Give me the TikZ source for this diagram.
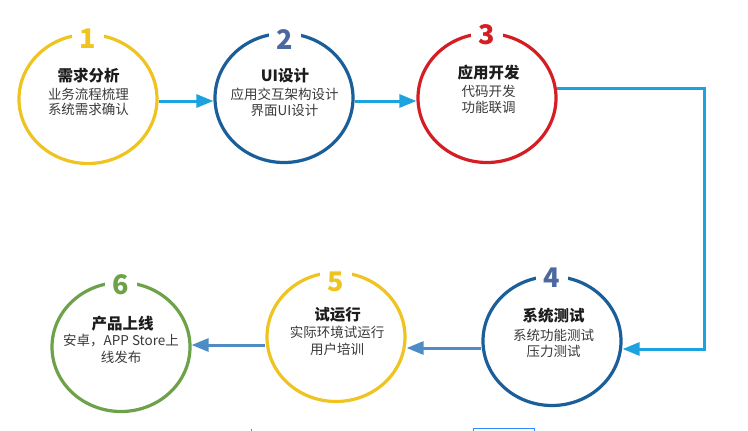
\documentclass[tikz,border=0pt]{standalone}
\usepackage{fontspec}
\newfontfamily\cjk{Noto Sans CJK SC}
\usetikzlibrary{shapes.geometric,arrows.meta}
\definecolor{cyanarr}{RGB}{27,163,224}
\definecolor{steelarr}{RGB}{78,140,200}
\definecolor{cyel}{RGB}{240,196,32}
\definecolor{cblue}{RGB}{26,94,154}
\definecolor{nblue}{RGB}{76,104,160}
\definecolor{cred}{RGB}{212,30,36}
\definecolor{cgreen}{RGB}{110,162,74}
\definecolor{ttl}{RGB}{28,28,28}
\definecolor{sub}{RGB}{58,58,58}
\definecolor{boxblue}{RGB}{50,140,255}
\begin{document}
\begin{tikzpicture}[x=1pt,y=-1pt,
  ring/.style={draw,ellipse,line width=3.2pt,minimum width=138pt,minimum height=129pt,inner sep=0pt},
  num/.style={fill=white,inner xsep=8pt,inner ysep=1pt,font=\cjk\bfseries\fontsize{27}{27}\selectfont},
  ttlnode/.style={text=ttl,inner sep=0pt,font=\cjk\bfseries\fontsize{15.5}{16}\selectfont},
  subnode/.style={text=sub,inner sep=0pt,font=\cjk\fontsize{13.5}{14}\selectfont},
  arr/.style={line width=3pt,-{Triangle[length=17pt,width=13pt]}}]
\clip (0,0) rectangle (748,431);
\fill[white] (0,0) rectangle (748,431);
% rings
\node[ring,draw=cyel]   (c1) at (88,99) {};
\node[ring,draw=cblue]  (c2) at (284,98) {};
\node[ring,draw=cred]   (c3) at (487,98) {};
\node[ring,draw=cblue]  (c4) at (552,341) {};
\node[ring,draw=cyel]   (c5) at (336,337) {};
\node[ring,draw=cgreen] (c6) at (121,347) {};
% numbers
\node[num,text=cyel]   (n1) at (88,39) {1};
\node[num,text=nblue]  (n2) at (285,40) {2};
\node[num,text=cred]   (n3) at (487,35) {3};
\node[num,text=nblue]  (n4) at (552,278) {4};
\node[num,text=cyel]   (n5) at (336,282) {5};
\node[num,text=cgreen] (n6) at (121,285) {6};
% texts
\node[ttlnode] (t1) at (88.5,75.5) {需求分析};
\node[subnode] (s1a) at (88.5,94) {业务流程梳理};
\node[subnode] (s1b) at (88.5,109) {系统需求确认};
\node[ttlnode] (t2) at (285,75.5) {UI设计};
\node[subnode] (s2a) at (284.5,94) {应用交互架构设计};
\node[subnode] (s2b) at (284.5,110) {界面UI设计};
\node[ttlnode] (t3) at (488.5,72.5) {应用开发};
\node[subnode] (s3a) at (488.5,91) {代码开发};
\node[subnode] (s3b) at (488.5,107.5) {功能联调};
\node[ttlnode] (t4) at (553.5,315.5) {系统测试};
\node[subnode] (s4a) at (553.5,335) {系统功能测试};
\node[subnode] (s4b) at (553.5,351.5) {压力测试};
\node[ttlnode] (t5) at (337.5,314.5) {试运行};
\node[subnode] (s5a) at (337,332.5) {实际环境试运行};
\node[subnode] (s5b) at (337,349) {用户培训};
\node[ttlnode] (t6) at (122.5,323.5) {产品上线};
\node[subnode] (s6a) at (121,341) {安卓，APP Store上};
\node[subnode] (s6b) at (121,357.5) {线发布};
% connectors
\draw[arr,cyanarr] (c1.east |- 0,101) -- (c2.west |- 0,101);
\draw[arr,cyanarr] (c2.east |- 0,101) -- (c3.west |- 0,101);
\coordinate (k) at (704,349);
\draw[arr,cyanarr] (c3.8) -| (k) -- (k -| c4.east);
\draw[arr,steelarr] (c4.west |- 0,348) -- (c5.east |- 0,348);
\draw[arr,steelarr] (c5.west |- 0,345) -- (c6.east |- 0,345);
% bottom fragments
\draw[boxblue,line width=1pt] (473.5,440) -- (473.5,428.5) -- (534,428.5) -- (534,440);
\draw[gray,line width=0.8pt] (251,428.5) -- (251,431);
\end{tikzpicture}
\end{document}
